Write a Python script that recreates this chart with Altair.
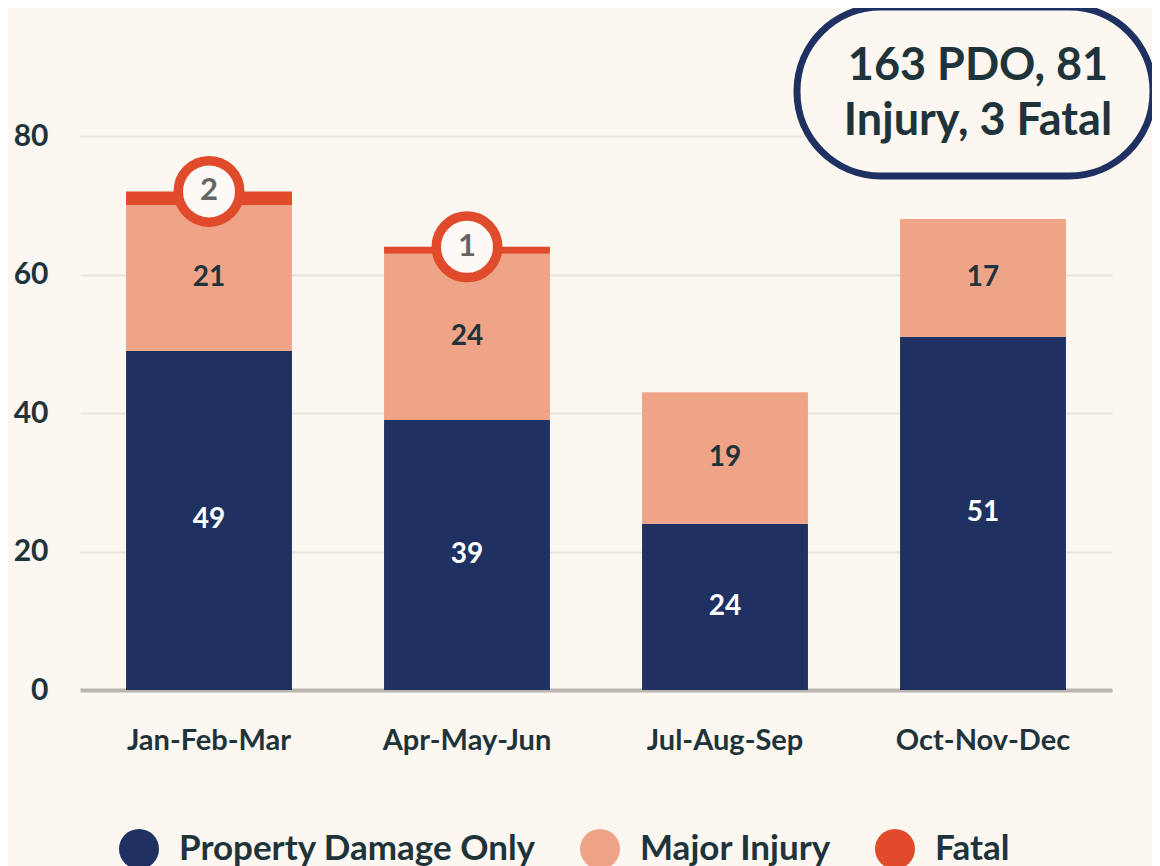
import altair as alt
import pandas as pd

quarters = ["Jan-Feb-Mar", "Apr-May-Jun", "Jul-Aug-Sep", "Oct-Nov-Dec"]
categories = ["Property Damage Only", "Major Injury", "Fatal"]
pdo = [49, 39, 24, 51]
injury = [21, 24, 19, 17]
fatal = [2, 1, 0, 0]
colors = ["#1f3160", "#f0a487", "#e04b2c"]
y_ticks = [0, 20, 40, 60, 80]
summary_text = "163 PDO, 81\nInjury, 3 Fatal"

FONT = "Lato"
DARK = "#1e343a"
BG = "#fcf7f1"

rows = []
for i, q in enumerate(quarters):
    for j, (cat, vals) in enumerate(zip(categories, [pdo, injury, fatal])):
        rows.append({"quarter": q, "category": cat, "value": vals[i], "ord": j})
df = pd.DataFrame(rows)

x_enc = alt.X("quarter:N", sort=quarters, title=None,
              scale=alt.Scale(paddingInner=0.357),
              axis=alt.Axis(labelAngle=0, labelFont=FONT, labelFontSize=29,
                            labelFontWeight="bold", labelColor=DARK, labelPadding=36,
                            ticks=False, domainColor="#bab5af", domainWidth=4, grid=False))

base = alt.Chart(df)

bars = base.mark_bar().encode(
    x=x_enc,
    y=alt.Y("value:Q", stack="zero", title=None,
            scale=alt.Scale(domain=[0, 80]),
            axis=alt.Axis(values=y_ticks, labelFont=FONT, labelFontSize=30,
                          labelFontWeight="bold", labelColor=DARK, labelPadding=32,
                          ticks=False, domain=False, gridColor="#e9e4de", gridWidth=2)),
    color=alt.Color("category:N", scale=alt.Scale(domain=categories, range=colors),
                    legend=alt.Legend(title=None, orient="none", legendX=39, legendY=693,
                                      direction="horizontal", symbolType="circle",
                                      symbolSize=1600, symbolStrokeWidth=0,
                                      labelFont=FONT, labelFontSize=35, labelFontWeight="bold",
                                      labelColor=DARK, labelOffset=20, columnPadding=44,
                                      labelLimit=0)),
    order=alt.Order("ord:Q"),
)

stacked = base.transform_stack(
    stack="value", groupby=["quarter"], as_=["y0", "y1"], sort=[alt.SortField("ord")]
).transform_calculate(mid="(datum.y0 + datum.y1) / 2")

pdo_lbl = stacked.transform_filter(alt.datum.ord == 0).mark_text(
    font=FONT, fontSize=28, fontWeight="bold", color="white").encode(
    x=alt.X("quarter:N", sort=quarters), y="mid:Q", text="value:Q")

inj_lbl = stacked.transform_filter(alt.datum.ord == 1).mark_text(
    font=FONT, fontSize=28, fontWeight="bold", color=DARK).encode(
    x=alt.X("quarter:N", sort=quarters), y="mid:Q", text="value:Q")

fatal_data = stacked.transform_filter((alt.datum.ord == 2) & (alt.datum.value > 0))
fatal_circ = fatal_data.mark_point(shape="circle", filled=False, size=3780,
                                   strokeWidth=9.5, stroke="#e04b2c", fill="#fdf9f5",
                                   fillOpacity=1, opacity=1).encode(
    x=alt.X("quarter:N", sort=quarters), y="y1:Q")
fatal_lbl = fatal_data.mark_text(font=FONT, fontSize=31, fontWeight="bold",
                                 color="#666666").encode(
    x=alt.X("quarter:N", sort=quarters), y="y1:Q", text="value:Q")

one = pd.DataFrame({"a": [0]})
box = alt.Chart(one).mark_rect(fill=BG, stroke="#1f3160", strokeWidth=7,
                               cornerRadius=84).encode(
    x=alt.value(717), x2=alt.value(1073), y=alt.value(-129), y2=alt.value(40))
box_txt = alt.Chart(one).mark_text(font=FONT, fontSize=45, fontWeight="bold", color=DARK,
                                   lineBreak="\n", lineHeight=55, baseline="middle").encode(
    x=alt.value(898), y=alt.value(-70), text=alt.value(summary_text))

chart = alt.layer(bars, pdo_lbl, inj_lbl, fatal_circ, fatal_lbl, box, box_txt).properties(
    width=1032, height=554,
    autosize=alt.AutoSizeParams(type="none"),
    padding={"left": 72, "top": 128, "right": 40, "bottom": 210},
    background=BG,
).configure_view(stroke=None)

chart.save("out.html", embed_options={"renderer": "svg", "actions": False})
